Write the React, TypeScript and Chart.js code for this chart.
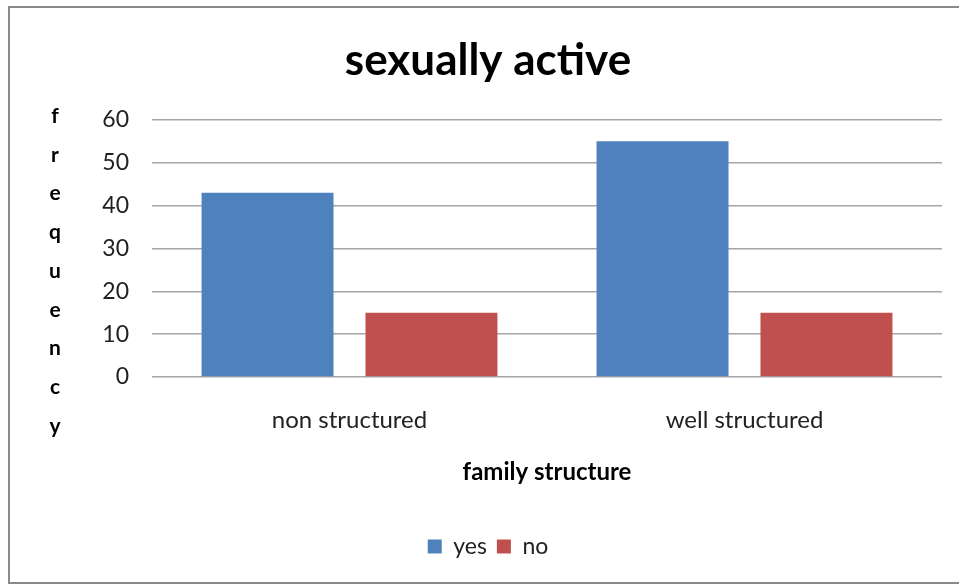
import React, { useEffect, useRef } from "react";
import { Chart, registerables } from "chart.js";

Chart.register(...registerables);

const categories = ["non structured", "well structured"];
const yesValues = [43, 55];
const noValues = [15, 15];
const seriesNames = ["yes", "no"];
const yTicks = [0, 10, 20, 30, 40, 50, 60];
const titleText = "sexually active";
const xTitleText = "family structure";
const yTitleText = "frequency";

const FONT = "Lato, 'Open Sans', sans-serif";

const verticalTitlePlugin = {
  id: "verticalTitle",
  afterDraw(chart: any) {
    const ctx = chart.ctx;
    ctx.save();
    ctx.font = `bold 21px ${FONT}`;
    ctx.fillStyle = "#000";
    ctx.textAlign = "center";
    ctx.textBaseline = "middle";
    const letters = yTitleText.split("");
    letters.forEach((ch, i) => {
      ctx.fillText(ch, 55, 116 + i * 38.75);
    });
    ctx.restore();
  },
};

export default function App() {
  const ref = useRef<HTMLCanvasElement | null>(null);

  useEffect(() => {
    if (!ref.current) return;
    const chart = new Chart(ref.current, {
      type: "bar",
      data: {
        labels: categories,
        datasets: [
          {
            label: seriesNames[0],
            data: yesValues,
            backgroundColor: "#4F81BD",
            categoryPercentage: 0.83,
            barPercentage: 0.805,
          },
          {
            label: seriesNames[1],
            data: noValues,
            backgroundColor: "#C0504D",
            categoryPercentage: 0.83,
            barPercentage: 0.805,
          },
        ],
      },
      options: {
        responsive: false,
        animation: false,
        layout: { padding: { left: 34, right: 34, top: 0, bottom: 17 } },
        plugins: {
          title: {
            display: true,
            text: titleText,
            color: "#000",
            font: { family: FONT, size: 44, weight: "bold" },
            padding: { top: 34, bottom: 33 },
          },
          legend: {
            display: true,
            position: "bottom",
            labels: {
              color: "#222",
              font: { family: FONT, size: 23 },
              boxWidth: 14,
              boxHeight: 14,
              padding: 10,
            },
          },
          tooltip: { enabled: false },
        },
        scales: {
          x: {
            grid: { display: false },
            border: { display: false },
            ticks: {
              color: "#222",
              font: { family: FONT, size: 24 },
              padding: 21,
            },
            title: {
              display: true,
              text: xTitleText,
              color: "#000",
              font: { family: FONT, size: 24, weight: "bold" },
              padding: { top: 10, bottom: 38 },
            },
            afterFit(scale: any) {
              scale.height = 148;
            },
          },
          y: {
            min: 0,
            max: 60,
            afterBuildTicks(scale: any) {
              scale.ticks = yTicks.map((v) => ({ value: v }));
            },
            grid: { color: "#a6a6a6", lineWidth: 1.5, drawTicks: false },
            border: { display: false },
            ticks: {
              color: "#222",
              font: { family: FONT, size: 23 },
              padding: 23,
            },
            afterFit(scale: any) {
              scale.width = 118;
            },
          },
        },
      },
      plugins: [verticalTitlePlugin],
    });
    return () => chart.destroy();
  }, []);

  return (
    <div
      style={{
        position: "fixed",
        left: 0,
        top: 0,
        width: 959,
        height: 585,
        overflow: "hidden",
        background: "#fff",
      }}
    >
      <div
        style={{
          position: "absolute",
          left: 8,
          top: 6,
          width: 1000,
          height: 578,
          boxSizing: "border-box",
          border: "2px solid #8a8a8a",
        }}
      />
      <canvas
        ref={ref}
        width={976}
        height={585}
        style={{ position: "absolute", left: 0, top: 0, width: 976, height: 585 }}
      />
    </div>
  );
}
